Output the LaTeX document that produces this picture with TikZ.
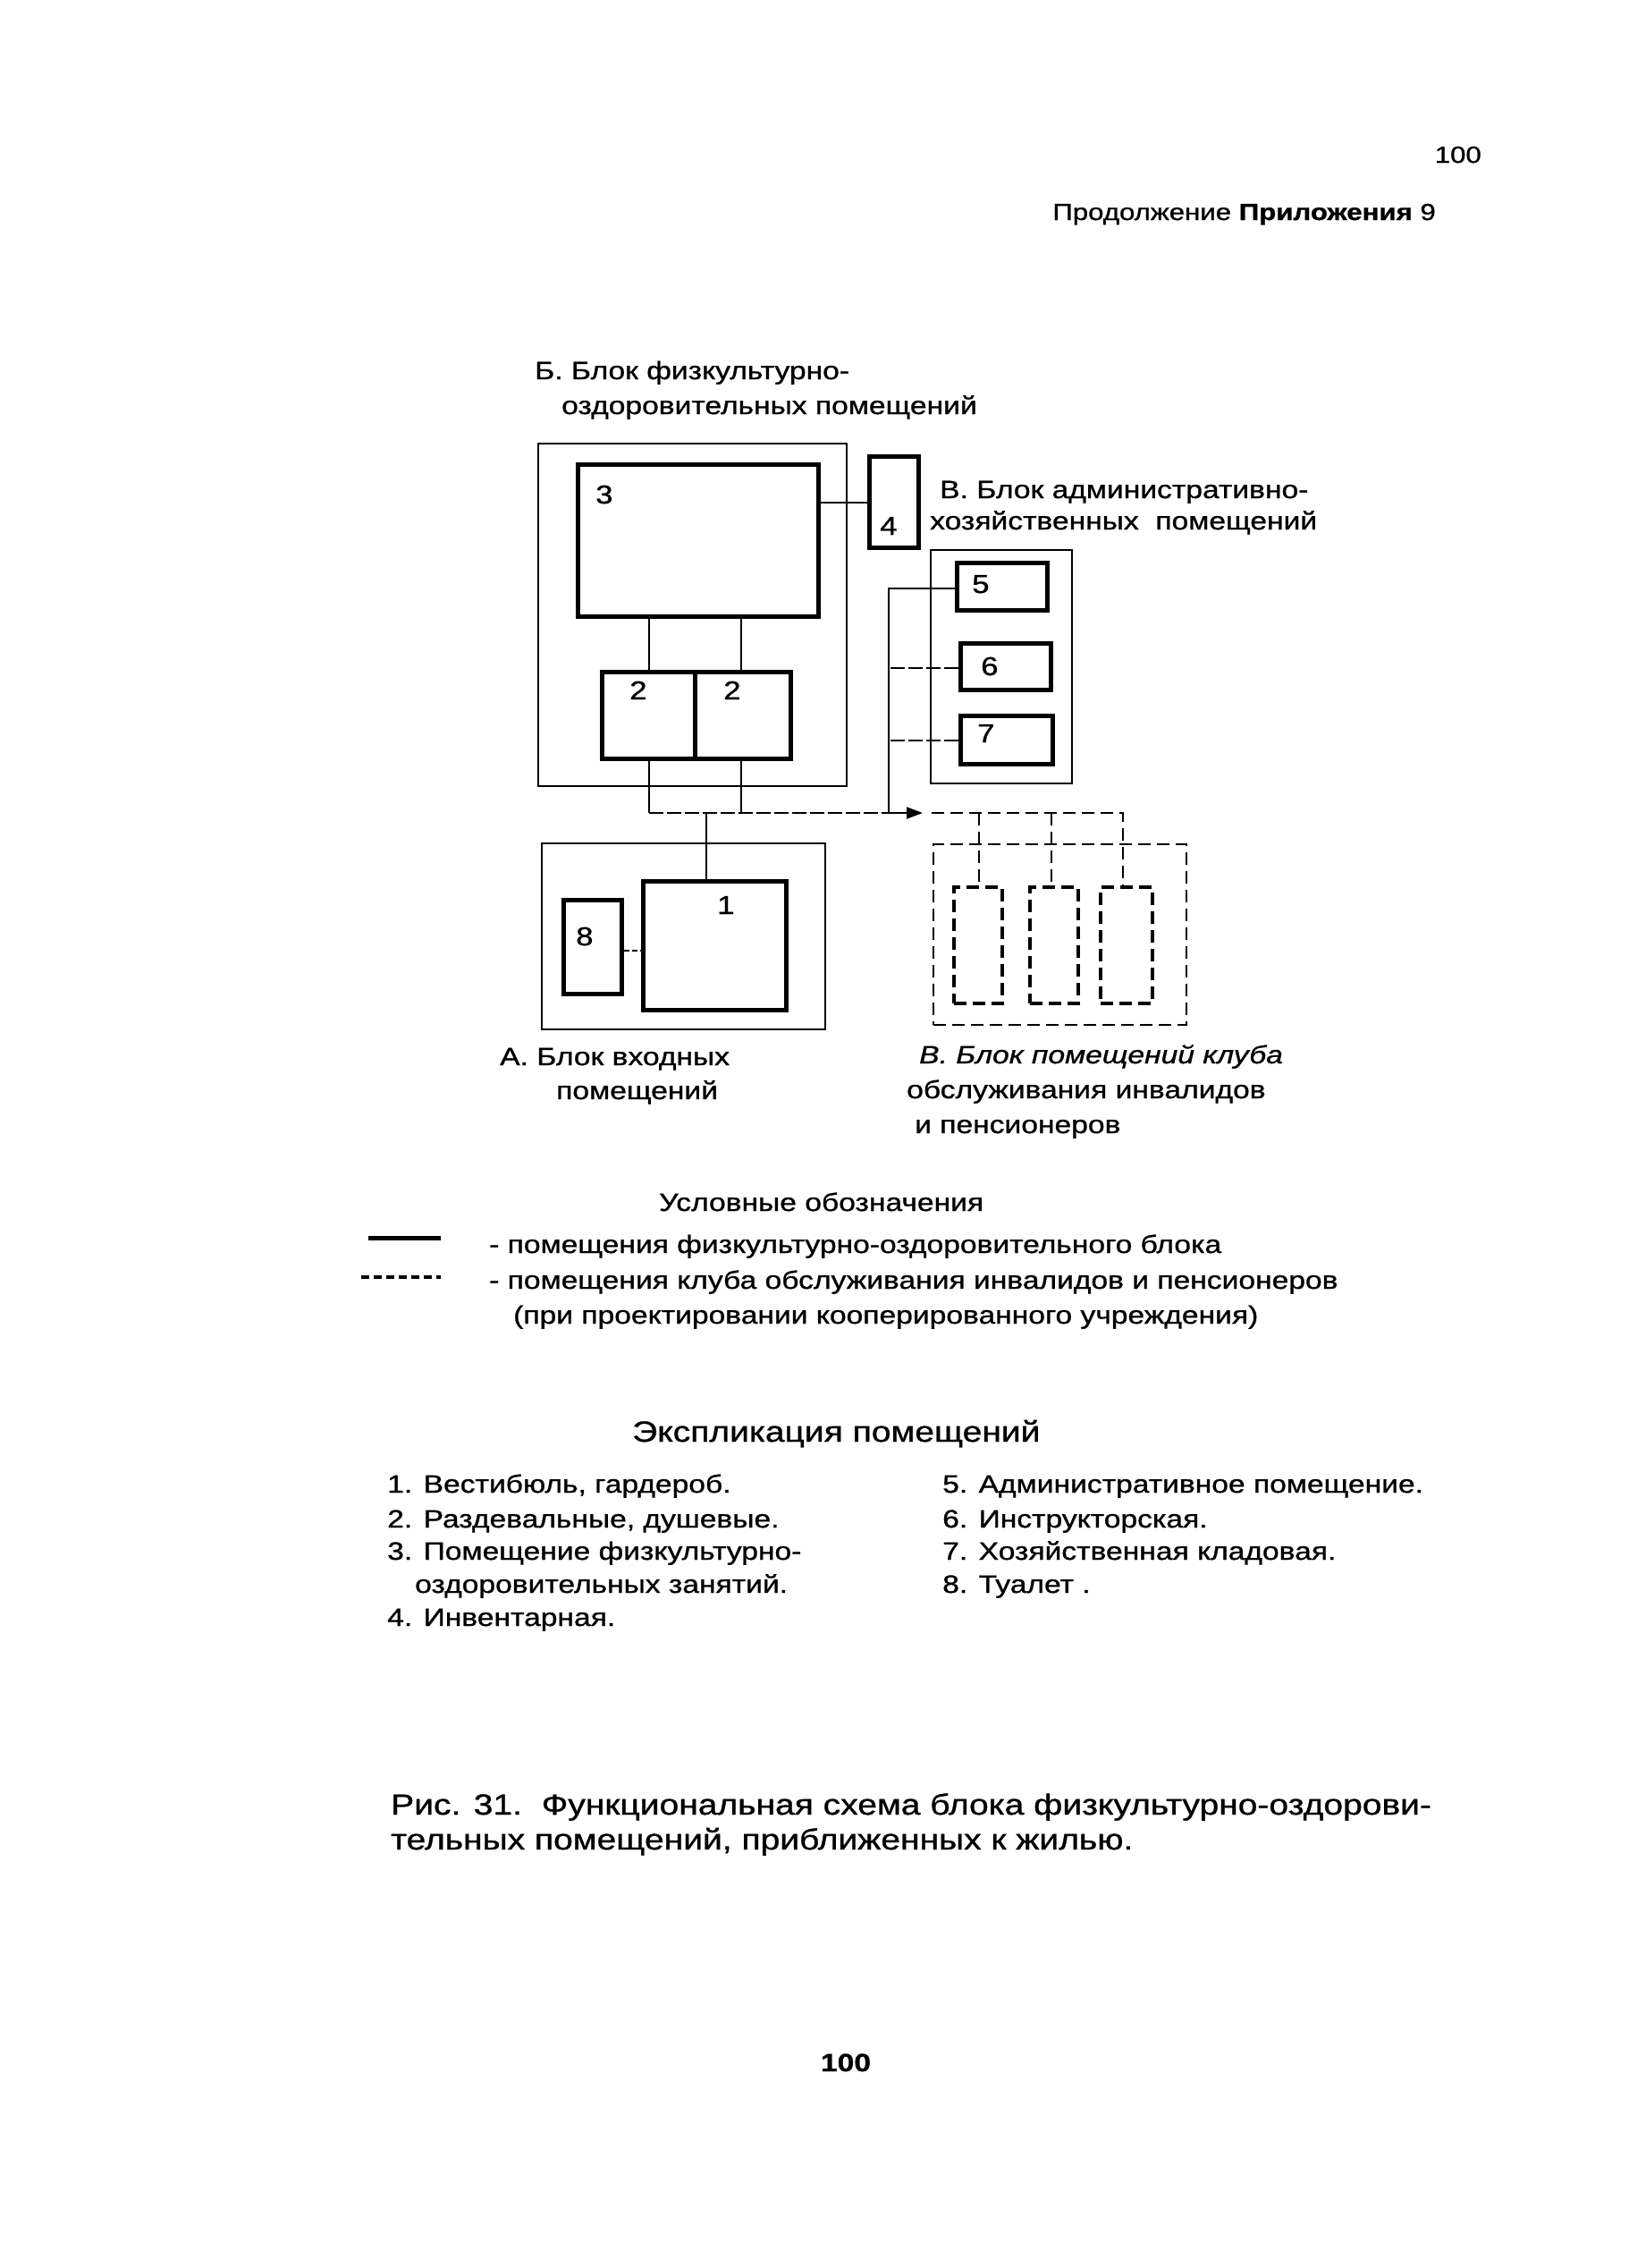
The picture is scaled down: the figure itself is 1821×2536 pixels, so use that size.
\documentclass[tikz,border=0pt]{standalone}
\usepackage{fontspec}
\setmainfont{Liberation Sans}[FakeStretch=1.2,FakeBold=1]
\usetikzlibrary{arrows.meta}
\begin{document}
\begin{tikzpicture}[x=1pt,y=-1pt,
  thinbox/.style={draw,line width=2pt,inner sep=0pt,anchor=north west},
  thickbox/.style={draw,line width=5pt,inner sep=0pt,anchor=north west},
  clubbox/.style={draw,line width=2pt,dash pattern=on 14pt off 7pt,inner sep=0pt,anchor=north west},
  clubroom/.style={draw,line width=3.5pt,dash pattern=on 14pt off 7pt,inner sep=0pt,anchor=north west},
  conn/.style={line width=2pt},
  dconn/.style={line width=2pt,dash pattern=on 16pt off 4pt},
  cconn/.style={line width=2.5pt,dash pattern=on 14pt off 7pt},
  num/.style={inner sep=0pt,anchor=base west,font=\fontsize{29}{34}\selectfont},
  dlab/.style={inner sep=0pt,anchor=base west,font=\fontsize{28}{33}\selectfont},
  leg/.style={inner sep=0pt,anchor=base west,font=\fontsize{28}{33}\selectfont},
  expl/.style={inner sep=0pt,anchor=base west,font=\fontsize{28}{33}\selectfont},
  etitle/.style={inner sep=0pt,anchor=base west,font=\fontsize{32.5}{38}\selectfont},
  capt/.style={inner sep=0pt,anchor=base west,font=\fontsize{32.5}{38}\selectfont},
  hdr/.style={inner sep=0pt,anchor=base east,font=\fontsize{26}{31}\selectfont}
]
\fill[white] (0,0) rectangle (1821,2536);
\useasboundingbox (0,0) rectangle (1821,2536);

% header
\node[hdr] (pg) at (1657,182) {100};
\node[hdr] (cont) at (1606,246) {Продолжение \textbf{Приложения} 9};

% block titles
\node[dlab] (tB1) at (598,424) {Б. Блок физкультурно-};
\node[dlab] (tB2) at (628,463) {оздоровительных помещений};
\node[dlab] (tV1) at (1051,557) {В. Блок административно-};
\node[dlab] (tV2) at (1040,592) {хозяйственных\ \ помещений};
\node[dlab] (tA1) at (559,1191) {А. Блок входных};
\node[dlab] (tA2) at (622,1229) {помещений};
\node[dlab] (tC1) at (1028,1189) {\itshape В. Блок помещений клуба};
\node[dlab] (tC2) at (1014,1228) {обслуживания инвалидов};
\node[dlab] (tC3) at (1023,1267) {и пенсионеров};

% block Б
\node[thinbox,minimum width=345pt,minimum height=383pt] (blkB) at (601,495) {};
\node[thickbox,minimum width=269pt,minimum height=170pt] (r3) at (644,517) {};
\node[thickbox,minimum width=55pt,minimum height=102pt] (r4) at (970,508) {};
\node[thickbox,minimum width=104pt,minimum height=97pt] (r2a) at (671,749) {};
\node[thickbox,minimum width=107pt,minimum height=97pt] (r2b) at (775,749) {};
% block В (admin)
\node[thinbox,minimum width=158pt,minimum height=261pt] (blkV) at (1040,614) {};
\node[thickbox,minimum width=101pt,minimum height=53pt] (r5) at (1068,627) {};
\node[thickbox,minimum width=101pt,minimum height=52pt] (r6) at (1072,717) {};
\node[thickbox,minimum width=103pt,minimum height=54pt] (r7) at (1072,798) {};
% block А
\node[thinbox,minimum width=317pt,minimum height=208pt] (blkA) at (605,942) {};
\node[thickbox,minimum width=65pt,minimum height=105pt] (r8) at (628,1004) {};
\node[thickbox,minimum width=160pt,minimum height=144pt] (r1) at (717,983) {};
% club block
\node[clubbox,minimum width=283pt,minimum height=202pt] (blkC) at (1043,943) {};
\node[clubroom,minimum width=54pt,minimum height=130pt] (c1) at (1065,990) {};
\node[clubroom,minimum width=54pt,minimum height=130pt] (c2) at (1150,990) {};
\node[clubroom,minimum width=58pt,minimum height=130pt] (c3) at (1229,990) {};

% room numbers
\node[num] (n3) at (666,563) {3};
\node[num] (n2a) at (704,782) {2};
\node[num] (n2b) at (809,782) {2};
\node[num] (n4) at (984,598) {4};
\node[num] (n5) at (1087,663) {5};
\node[num] (n6) at (1097,755) {6};
\node[num] (n7) at (1093,830) {7};
\node[num] (n8) at (644,1057) {8};
\node[num] (n1) at (802,1022) {1};

% connector guide coordinates
\coordinate (xL) at (726,0);
\coordinate (xR) at (829,0);
\coordinate (xV) at (994,0);
\coordinate (x1) at (790,0);
\coordinate (yBus) at (0,909);
\coordinate (y34) at (0,562);
\coordinate (y5) at (0,658);
\coordinate (y6) at (0,747);
\coordinate (y7) at (0,828);
\coordinate (y81) at (0,1063);
\coordinate (tip) at (1032,909);
\coordinate (busR) at (1042,909);
\coordinate (xc1) at (1095,0);
\coordinate (xc2) at (1176,0);
\coordinate (xc3) at (1256,0);

% connectors
\draw[conn] (r3.east |- y34) -- (r4.west |- y34);
\draw[conn] (r3.south -| xL) -- (r2a.north -| xL);
\draw[conn] (r3.south -| xR) -- (r2b.north -| xR);
\draw[conn] (r2a.south -| xL) -- (xL |- yBus);
\draw[conn] (r2b.south -| xR) -- (xR |- yBus);
\draw[dconn] (xL |- yBus) -- (xV |- yBus);
\draw[conn] (r1.north -| x1) -- (x1 |- yBus);
\draw[conn,-{Triangle[length=18pt,width=13pt]}] (r5.west |- y5) -| (xV |- yBus) -- (tip);
\draw[dconn] (r6.west |- y6) -- (xV |- y6);
\draw[dconn] (r7.west |- y7) -- (xV |- y7);
\draw[cconn] (busR) -- (xc3 |- yBus) -- (c3.north -| xc3);
\draw[cconn] (xc1 |- yBus) -- (c1.north -| xc1);
\draw[cconn] (xc2 |- yBus) -- (c2.north -| xc2);
\draw[conn,dash pattern=on 6pt off 3pt] (r8.east |- y81) -- (r1.west |- y81);

% legend
\node[leg] (lgT) at (737,1354) {Условные обозначения};
\coordinate (ls1) at (412,1384);
\coordinate (ls2) at (493,1384);
\coordinate (ld1) at (404,1428);
\coordinate (ld2) at (493,1428);
\draw[line width=5pt] (ls1) -- (ls2);
\draw[line width=3.5pt,dash pattern=on 9pt off 5pt] (ld1) -- (ld2);
\node[leg] (lg1) at (547,1401) {- помещения физкультурно-оздоровительного блока};
\node[leg] (lg2) at (547,1441) {- помещения клуба обслуживания инвалидов и пенсионеров};
\node[leg] (lg3) at (574,1480) {(при проектировании кооперированного учреждения)};

% explication
\node[etitle] (eT) at (707,1612) {Экспликация помещений};
\node[expl] (e1) at (433,1669) {1. Вестибюль, гардероб.};
\node[expl] (e2) at (433,1708) {2. Раздевальные, душевые.};
\node[expl] (e3) at (433,1744) {3. Помещение физкультурно-};
\node[expl] (e3b) at (464,1781) {оздоровительных занятий.};
\node[expl] (e4) at (433,1818) {4. Инвентарная.};
\node[expl] (e5) at (1054,1669) {5. Административное помещение.};
\node[expl] (e6) at (1054,1708) {6. Инструкторская.};
\node[expl] (e7) at (1054,1744) {7. Хозяйственная кладовая.};
\node[expl] (e8) at (1054,1781) {8. Туалет .};

% caption
\node[capt] (cp1) at (437,2029) {Рис. 31.\ \ Функциональная схема блока физкультурно-оздорови-};
\node[capt] (cp2) at (437,2068) {тельных помещений, приближенных к жилью.};

% page number
\node[inner sep=0pt,anchor=base,font=\fontsize{28}{33}\selectfont\bfseries] (pgb) at (946,2316) {100};
\end{tikzpicture}
\end{document}
